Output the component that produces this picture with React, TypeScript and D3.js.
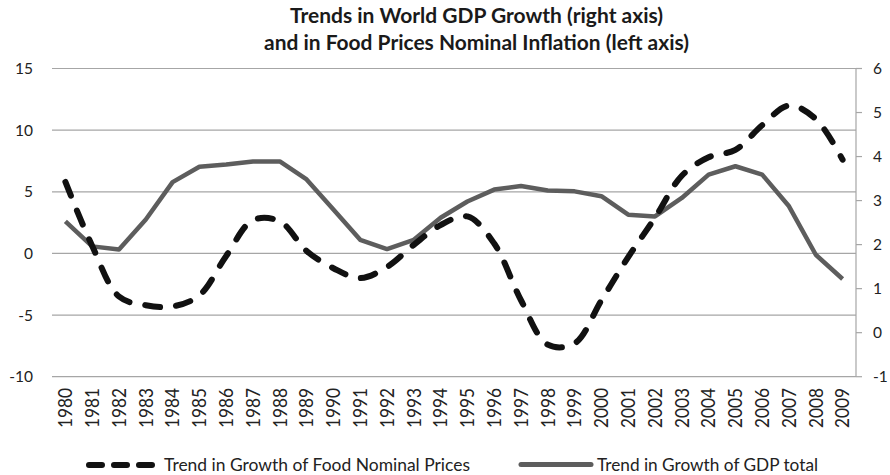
import React from "react";
import * as d3 from "d3";

const years = [
  "1980","1981","1982","1983","1984","1985","1986","1987","1988","1989",
  "1990","1991","1992","1993","1994","1995","1996","1997","1998","1999",
  "2000","2001","2002","2003","2004","2005","2006","2007","2008","2009",
];
const foodPrices = [
  5.8, 0.6, -3.5, -4.2, -4.3, -3.4, -0.2, 2.7, 2.6, 0.2,
  -1.2, -2.0, -1.1, 0.7, 2.3, 3.0, 0.8, -3.8, -7.4, -7.3,
  -3.8, -0.3, 2.9, 6.3, 7.8, 8.4, 10.4, 12.0, 10.9, 7.6,
];
const gdpTotal = [
  2.53, 1.96, 1.89, 2.57, 3.42, 3.77, 3.82, 3.89, 3.89, 3.48,
  2.80, 2.11, 1.90, 2.11, 2.61, 2.98, 3.25, 3.33, 3.23, 3.21,
  3.10, 2.68, 2.64, 3.06, 3.59, 3.78, 3.59, 2.87, 1.77, 1.22,
];
const leftTicks = [-10, -5, 0, 5, 10, 15];
const rightTicks = [-1, 0, 1, 2, 3, 4, 5, 6];
const titleLines = [
  "Trends in World GDP Growth (right axis)",
  "and in Food Prices Nominal Inflation (left axis)",
];
const legendLabels = ["Trend in Growth of Food Nominal Prices", "Trend in Growth of GDP total"];

const W = 890, H = 475;
const left = 52, right = 856, top = 68.5, bottom = 376.7;
const FONT = "Lato, 'Open Sans', sans-serif";

export default function App() {
  const x = d3.scaleBand<string>().domain(years).range([left, right]);
  const cx = (i: number) => (x(years[i]) as number) + x.bandwidth() / 2;
  const yL = d3.scaleLinear().domain([-10, 15]).range([bottom, top]);
  const yR = d3.scaleLinear().domain([-1, 6]).range([bottom, top]);

  const foodLine = d3.line<number>()
    .x((_, i) => cx(i))
    .y((d) => yL(d))
    .curve(d3.curveCatmullRom.alpha(0.5))(foodPrices) as string;
  const gdpLine = d3.line<number>()
    .x((_, i) => cx(i))
    .y((d) => yR(d))(gdpTotal) as string;

  return (
    <svg width={W} height={H} style={{ position: "absolute", left: 0, top: 0, background: "#fff" }}>
      <g fontFamily={FONT} fontWeight="bold" fontSize={21} fill="#1a1a1a" textAnchor="middle">
        <text x={476.5} y={23} textLength={373} lengthAdjust="spacingAndGlyphs">{titleLines[0]}</text>
        <text x={476.5} y={50} textLength={425} lengthAdjust="spacingAndGlyphs">{titleLines[1]}</text>
      </g>
      {leftTicks.map((t) => (
        <g key={"l" + t}>
          <line x1={left} x2={right} y1={yL(t)} y2={yL(t)} stroke="#a6a6a6" strokeWidth={1.2} />
          <text x={33} y={yL(t) + 5.5} textAnchor="end" fontFamily={FONT} fontSize={15.5} fill="#222">{t}</text>
        </g>
      ))}
      <line x1={right} x2={right} y1={top} y2={bottom} stroke="#a6a6a6" strokeWidth={1.2} />
      {rightTicks.map((t) => (
        <g key={"r" + t}>
          <line x1={right} x2={right + 6} y1={yR(t)} y2={yR(t)} stroke="#a6a6a6" strokeWidth={1.2} />
          <text x={873} y={yR(t) + 5.5} textAnchor="start" fontFamily={FONT} fontSize={15.5} fill="#222">{t}</text>
        </g>
      ))}
      {years.map((yr, i) => (
        <text key={yr} transform={`translate(${cx(i) + 6.8},${388}) rotate(-90)`} textAnchor="end"
          fontFamily={FONT} fontSize={18.5} fill="#222" textLength={40} lengthAdjust="spacingAndGlyphs">{yr}</text>
      ))}
      <path d={gdpLine} fill="none" stroke="#5d5d5d" strokeWidth={4.5} strokeLinejoin="round" />
      <path d={foodLine} fill="none" stroke="#111" strokeWidth={6} strokeDasharray="15,16" strokeLinecap="round" />
      <g fontFamily={FONT} fontSize={17.5} fill="#222">
        <line x1={89} x2={152} y1={465} y2={465} stroke="#111" strokeWidth={6} strokeDasharray="13,12" strokeLinecap="round" />
        <text x={164} y={471} textLength={306} lengthAdjust="spacingAndGlyphs">{legendLabels[0]}</text>
        <line x1={521} x2={591} y1={464.5} y2={464.5} stroke="#5d5d5d" strokeWidth={5} strokeLinecap="round" />
        <text x={597} y={471} textLength={221} lengthAdjust="spacingAndGlyphs">{legendLabels[1]}</text>
      </g>
    </svg>
  );
}
